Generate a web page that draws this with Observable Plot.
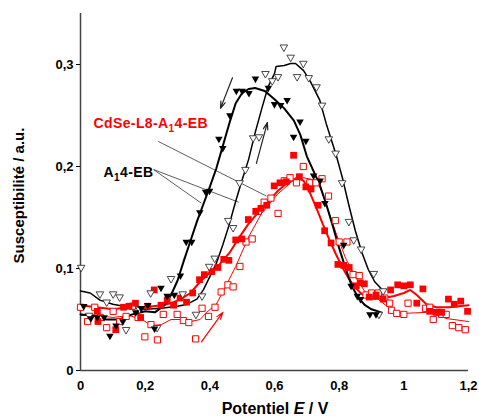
<!DOCTYPE html>
<html><head><meta charset="utf-8">
<script src="https://cdn.jsdelivr.net/npm/d3@7"></script>
<script src="https://cdn.jsdelivr.net/npm/@observablehq/plot@0.6"></script>
<style>body{margin:0;background:#fff}</style>
</head><body><div id="chart"></div>
<script>
// ---------- data (potential E / V, susceptibility / a.u.) ----------
const blackFilled = [[0.010,0.063],[0.032,0.051],[0.052,0.052],[0.073,0.052],[0.091,0.034],[0.110,0.044],[0.131,0.048],[0.171,0.057],[0.188,0.061],[0.208,0.064],[0.229,0.041],[0.249,0.081],[0.268,0.073],[0.290,0.074],[0.309,0.093],[0.327,0.126],[0.344,0.126],[0.369,0.155],[0.387,0.175],[0.399,0.176],[0.428,0.227],[0.440,0.218],[0.462,0.250],[0.482,0.274],[0.500,0.274],[0.521,0.272],[0.541,0.286],[0.581,0.277],[0.600,0.261],[0.619,0.260],[0.639,0.265],[0.659,0.229],[0.679,0.244],[0.697,0.225],[0.721,0.191],[0.741,0.186],[0.756,0.164],[0.814,0.123],[0.837,0.083],[0.856,0.073],[0.866,0.070],[0.895,0.055],[0.914,0.055]];
const blackOpen = [[0.002,0.101],[0.027,0.054],[0.060,0.075],[0.081,0.067],[0.101,0.075],[0.121,0.072],[0.141,0.040],[0.182,0.060],[0.217,0.076],[0.237,0.042],[0.280,0.090],[0.316,0.075],[0.357,0.055],[0.376,0.073],[0.398,0.102],[0.415,0.110],[0.457,0.147],[0.472,0.140],[0.492,0.184],[0.510,0.197],[0.534,0.228],[0.552,0.229],[0.572,0.291],[0.593,0.284],[0.611,0.288],[0.629,0.317],[0.650,0.307],[0.670,0.288],[0.689,0.301],[0.706,0.287],[0.730,0.278],[0.747,0.260],[0.768,0.227],[0.789,0.213],[0.809,0.184],[0.830,0.146],[0.845,0.128],[0.868,0.119],[0.907,0.095],[0.923,0.055],[0.936,0.078]];
const redFilled = [[0.052,0.058],[0.054,0.048],[0.109,0.040],[0.133,0.062],[0.150,0.063],[0.170,0.066],[0.186,0.052],[0.208,0.063],[0.228,0.079],[0.249,0.064],[0.268,0.069],[0.288,0.064],[0.308,0.071],[0.328,0.067],[0.347,0.076],[0.368,0.089],[0.383,0.094],[0.406,0.097],[0.425,0.101],[0.443,0.109],[0.459,0.108],[0.480,0.128],[0.499,0.129],[0.519,0.148],[0.542,0.156],[0.558,0.159],[0.576,0.162],[0.599,0.181],[0.617,0.184],[0.636,0.185],[0.659,0.211],[0.677,0.190],[0.697,0.180],[0.713,0.178],[0.735,0.162],[0.755,0.137],[0.775,0.125],[0.796,0.104],[0.814,0.103],[0.831,0.101],[0.853,0.083],[0.865,0.086],[0.878,0.085],[0.893,0.072],[0.914,0.074],[0.936,0.070],[0.959,0.079],[0.981,0.084],[1.000,0.083],[1.020,0.084],[1.040,0.066],[1.059,0.080],[1.080,0.058],[1.100,0.057],[1.117,0.057],[1.138,0.070],[1.156,0.065],[1.176,0.068],[1.197,0.058]];
const redOpen = [[0.000,0.062],[0.022,0.048],[0.044,0.062],[0.061,0.052],[0.081,0.042],[0.101,0.058],[0.121,0.048],[0.141,0.053],[0.161,0.063],[0.178,0.052],[0.199,0.033],[0.218,0.045],[0.238,0.030],[0.256,0.055],[0.299,0.055],[0.318,0.049],[0.335,0.047],[0.356,0.031],[0.376,0.061],[0.396,0.053],[0.416,0.062],[0.435,0.077],[0.456,0.084],[0.472,0.082],[0.493,0.102],[0.512,0.126],[0.531,0.129],[0.550,0.156],[0.568,0.165],[0.589,0.169],[0.611,0.154],[0.630,0.186],[0.648,0.189],[0.668,0.184],[0.689,0.200],[0.709,0.184],[0.728,0.184],[0.747,0.188],[0.767,0.171],[0.788,0.147],[0.800,0.126],[0.824,0.126],[0.843,0.094],[0.862,0.093],[0.883,0.074],[0.900,0.076],[0.921,0.076],[0.941,0.071],[0.956,0.066],[0.962,0.059],[0.978,0.056],[1.000,0.055],[1.013,0.066],[1.067,0.061],[1.080,0.062],[1.091,0.050],[1.109,0.057],[1.117,0.055],[1.131,0.055],[1.150,0.044],[1.170,0.042],[1.190,0.040]];

// smoothed curves
const blackFilledCurve = [[0,0.055],[0.04,0.054],[0.08,0.050],[0.12,0.050],[0.16,0.055],[0.20,0.058],[0.23,0.057],[0.26,0.064],[0.28,0.074],[0.30,0.088],[0.32,0.108],[0.34,0.127],[0.36,0.146],[0.38,0.163],[0.40,0.180],[0.42,0.198],[0.44,0.220],[0.46,0.242],[0.48,0.262],[0.50,0.272],[0.52,0.276],[0.54,0.277],[0.57,0.274],[0.60,0.266],[0.63,0.257],[0.66,0.245],[0.68,0.231],[0.70,0.210],[0.72,0.196],[0.74,0.182],[0.76,0.163],[0.78,0.142],[0.80,0.120],[0.82,0.100],[0.84,0.082],[0.86,0.071],[0.88,0.064],[0.90,0.060],[0.93,0.057]];
const blackOpenCurve = [[0,0.078],[0.03,0.076],[0.06,0.069],[0.10,0.065],[0.15,0.062],[0.20,0.060],[0.25,0.061],[0.30,0.063],[0.33,0.065],[0.36,0.070],[0.38,0.079],[0.40,0.092],[0.42,0.105],[0.44,0.123],[0.46,0.143],[0.48,0.166],[0.50,0.187],[0.52,0.207],[0.54,0.233],[0.56,0.256],[0.58,0.278],[0.60,0.291],[0.605,0.298],[0.63,0.299],[0.65,0.301],[0.665,0.301],[0.69,0.294],[0.71,0.284],[0.74,0.265],[0.76,0.242],[0.79,0.212],[0.81,0.189],[0.83,0.162],[0.85,0.137],[0.87,0.116],[0.89,0.099],[0.91,0.087],[0.94,0.077]];
const redFilledCurve = [[0,0.064],[0.05,0.062],[0.10,0.060],[0.15,0.062],[0.20,0.062],[0.25,0.064],[0.28,0.066],[0.31,0.070],[0.34,0.076],[0.37,0.087],[0.40,0.096],[0.43,0.104],[0.46,0.115],[0.49,0.130],[0.52,0.144],[0.55,0.155],[0.58,0.165],[0.61,0.176],[0.64,0.184],[0.67,0.189],[0.69,0.186],[0.71,0.174],[0.73,0.159],[0.75,0.143],[0.77,0.128],[0.79,0.114],[0.81,0.101],[0.83,0.090],[0.85,0.081],[0.87,0.075],[0.89,0.071],[0.91,0.070],[0.94,0.071],[0.97,0.073],[1.00,0.076],[1.02,0.079],[1.04,0.074],[1.07,0.065],[1.10,0.062],[1.14,0.062],[1.17,0.063],[1.20,0.064]];
const redOpenCurve = [[0,0.054],[0.05,0.054],[0.10,0.052],[0.15,0.054],[0.19,0.050],[0.22,0.044],[0.25,0.045],[0.28,0.050],[0.31,0.050],[0.34,0.048],[0.37,0.050],[0.39,0.057],[0.42,0.065],[0.45,0.083],[0.48,0.102],[0.52,0.131],[0.56,0.154],[0.61,0.173],[0.66,0.187],[0.69,0.189],[0.72,0.187],[0.74,0.180],[0.76,0.163],[0.79,0.135],[0.82,0.110],[0.85,0.092],[0.88,0.077],[0.92,0.070],[0.96,0.060],[1.00,0.056],[1.07,0.057],[1.10,0.056],[1.13,0.051],[1.20,0.048]];

// axes
const xTicks = [0, 0.2, 0.4, 0.6, 0.8, 1, 1.2];
const xTickLabels = ["0", "0,2", "0,4", "0,6", "0,8", "1", "1,2"];
const yTicks = [0, 0.1, 0.2, 0.3];
const yTickLabels = ["0", "0,1", "0,2", "0,3"];
const xTitle = ["Potentiel ", "E", " / V"];
const yTitle = "Susceptibilité / a.u.";

// annotations
const labels = [
  {x: 0.040, y: 0.2426, text: "CdSe-L8-A₁4-EB", color: "#ff0000"},
  {x: 0.071, y: 0.1944, text: "A₁4-EB", color: "#000000"}
];
const pointers = [
  {x1: 0.241, y1: 0.2245, x2: 0.575, y2: 0.171},
  {x1: 0.226, y1: 0.197, x2: 0.374, y2: 0.164},
  {x1: 0.226, y1: 0.197, x2: 0.489, y2: 0.165}
];
const arrows = [
  {x1: 0.470, y1: 0.287, x2: 0.433, y2: 0.257, color: "#222"},
  {x1: 0.544, y1: 0.203, x2: 0.578, y2: 0.243, color: "#222"},
  {x1: 0.374, y1: 0.028, x2: 0.440, y2: 0.057, color: "#ff0000"}
];

// ---------- drawing ----------
const pts = a => a.map(([x, y]) => ({x, y}));
const triDown = {
  draw(ctx, size) {
    const y = -Math.sqrt(size / (3 * Math.sqrt(3)));
    ctx.moveTo(0, -2 * y);
    ctx.lineTo(-Math.sqrt(3) * y, y);
    ctx.lineTo(Math.sqrt(3) * y, y);
    ctx.closePath();
  }
};
const RED = "#ff0000";

const plot = Plot.plot({
  width: 479,
  height: 418,
  marginLeft: 80,
  marginRight: 11,
  marginTop: 13,
  marginBottom: 48,
  x: {domain: [0, 1.2]},
  y: {domain: [0, 0.35]},
  style: {fontFamily: "'Liberation Sans', Arial, sans-serif", fontSize: "13px", fontWeight: "bold", background: "#fff", color: "#000"},
  marks: [
    Plot.axisY({ticks: yTicks, tickFormat: d => yTickLabels[yTicks.indexOf(d)], tickSize: 4, tickPadding: 3, label: null}),
    Plot.axisX({ticks: xTicks, tickFormat: d => xTickLabels[xTicks.indexOf(d)], tickSize: 0, tickPadding: 10, label: null}),
    Plot.ruleX([0], {stroke: "#444", strokeWidth: 1.5}),
    Plot.ruleY([0], {stroke: "#444", strokeWidth: 1.5}),
    Plot.link(pointers, {x1: "x1", y1: "y1", x2: "x2", y2: "y2", stroke: "#333", strokeWidth: 0.8}),
    Plot.arrow(arrows, {x1: "x1", y1: "y1", x2: "x2", y2: "y2", stroke: "color", strokeWidth: 1.2, headLength: 9, headAngle: 36}),
    Plot.line(pts(redOpenCurve), {x: "x", y: "y", stroke: RED, strokeWidth: 1}),
    Plot.line(pts(redFilledCurve), {x: "x", y: "y", stroke: RED, strokeWidth: 2}),
    Plot.line(pts(blackOpenCurve), {x: "x", y: "y", stroke: "#000", strokeWidth: 1.5}),
    Plot.line(pts(blackFilledCurve), {x: "x", y: "y", stroke: "#000", strokeWidth: 2}),
    Plot.dot(pts(redOpen), {x: "x", y: "y", symbol: "square", r: 3.5, fill: "#fff", stroke: RED, strokeWidth: 1}),
    Plot.dot(pts(redFilled), {x: "x", y: "y", symbol: "square", r: 3.8, fill: RED, stroke: "none"}),
    Plot.dot(pts(blackOpen), {x: "x", y: "y", symbol: triDown, r: 2.8, fill: "#fff", stroke: "#333", strokeWidth: 0.9}),
    Plot.dot(pts(blackFilled), {x: "x", y: "y", symbol: triDown, r: 2.8, fill: "#000", stroke: "none"}),
    Plot.text(labels, {x: "x", y: "y", text: "text", fill: "color", textAnchor: "start", fontSize: 14, fontWeight: "bold"})
  ]
});

const svg = d3.select(plot);
// subscripts in labels
svg.selectAll("text").each(function() {
  const t = this.textContent;
  if (t.includes("₁") && this.childNodes.length === 1) {
    const [a, b] = t.split("₁");
    const s = d3.select(this);
    s.text(null).style("letter-spacing", "0.4px");
    s.append("tspan").text(a);
    s.append("tspan").attr("font-size", "10px").attr("dy", "4").text("1");
    s.append("tspan").attr("dy", "-4").text(b);
  }
});
// axis titles
const xs = plot.scale("x"), ys = plot.scale("y");
const cx = (xs.range[0] + xs.range[1]) / 2;
const xt = svg.append("text").attr("x", cx + 1).attr("y", 414).attr("text-anchor", "middle")
  .attr("font-size", "16px").attr("font-weight", "bold");
xt.append("tspan").text(xTitle[0]);
xt.append("tspan").attr("font-style", "italic").text(xTitle[1]);
xt.append("tspan").text(xTitle[2]);
const cy = (ys.range[0] + ys.range[1]) / 2;
svg.append("text").attr("transform", `translate(23.5,${cy + 4}) rotate(-90)`).attr("text-anchor", "middle")
  .attr("font-size", "15px").attr("font-weight", "bold").text(yTitle);

document.getElementById("chart").appendChild(plot);
</script></body></html>
